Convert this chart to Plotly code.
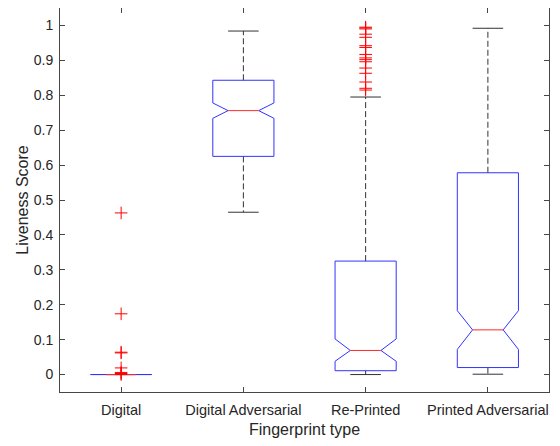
import plotly.graph_objects as go

categories = ["Digital", "Digital Adversarial", "Re-Printed", "Printed Adversarial"]
q1 = [0.0, 0.625, 0.011, 0.020]
median = [0.0, 0.756, 0.069, 0.128]
q3 = [0.0, 0.843, 0.325, 0.578]
notch_low = [0.0, 0.734, 0.038, 0.072]
notch_high = [0.0, 0.778, 0.102, 0.183]
whisker_low = [0.0, 0.465, 0.0, 0.001]
whisker_high = [0.0, 0.984, 0.795, 0.992]
outliers = [
    [0.463, 0.174, 0.064, 0.062, 0.019, 0.006, 0.003, 0.0],
    [],
    [0.995, 0.993, 0.990, 0.975, 0.966, 0.942, 0.937, 0.917, 0.907, 0.902,
     0.896, 0.878, 0.863, 0.838, 0.820, 0.815],
    [],
]
y_ticks = [0, 0.1, 0.2, 0.3, 0.4, 0.5, 0.6, 0.7, 0.8, 0.9, 1]
y_tick_text = ["0", "0.1", "0.2", "0.3", "0.4", "0.5", "0.6", "0.7", "0.8", "0.9", "1"]

half_w = 0.25
notch_in = 0.125
positions = list(range(1, len(categories) + 1))

wx, wy, cx, cy, bx, by, mx, my, ox, oy = [], [], [], [], [], [], [], [], [], []
for i, p in enumerate(positions):
    wx += [p, p, None, p, p, None]
    wy += [q3[i], whisker_high[i], None, q1[i], whisker_low[i], None]
    cx += [p - half_w / 2, p + half_w / 2, None, p - half_w / 2, p + half_w / 2, None]
    cy += [whisker_high[i], whisker_high[i], None, whisker_low[i], whisker_low[i], None]
    bx += [p - half_w, p - half_w, p - half_w + notch_in, p - half_w, p - half_w,
           p + half_w, p + half_w, p + half_w - notch_in, p + half_w, p + half_w,
           p - half_w, None]
    by += [q1[i], notch_low[i], median[i], notch_high[i], q3[i],
           q3[i], notch_high[i], median[i], notch_low[i], q1[i],
           q1[i], None]
    mx += [p - half_w + notch_in, p + half_w - notch_in, None]
    my += [median[i], median[i], None]
    for v in outliers[i]:
        ox.append(p)
        oy.append(v)

fig = go.Figure()
fig.add_trace(go.Scatter(x=wx, y=wy, mode="lines",
                         line=dict(color="rgb(50,50,50)", width=1, dash="6px,3px"),
                         hoverinfo="skip", showlegend=False))
fig.add_trace(go.Scatter(x=cx, y=cy, mode="lines",
                         line=dict(color="rgb(50,50,50)", width=1),
                         hoverinfo="skip", showlegend=False))
fig.add_trace(go.Scatter(x=bx, y=by, mode="lines",
                         line=dict(color="rgb(50,50,255)", width=1),
                         hoverinfo="skip", showlegend=False))
fig.add_trace(go.Scatter(x=mx, y=my, mode="lines",
                         line=dict(color="rgb(255,40,40)", width=1),
                         hoverinfo="skip", showlegend=False))
fig.add_trace(go.Scatter(x=ox, y=oy, mode="markers",
                         marker=dict(symbol="cross-thin-open", size=9, color="rgb(255,0,0)",
                                     line=dict(color="rgb(255,0,0)", width=1)),
                         hoverinfo="skip", showlegend=False))

axis_color = "rgb(38,38,38)"
font_family = "Liberation Sans, Arial, sans-serif"
fig.update_layout(
    width=552, height=438,
    margin=dict(l=52, r=11, t=0, b=54),
    paper_bgcolor="white", plot_bgcolor="white",
    font=dict(family=font_family, color=axis_color, size=14.5),
    xaxis=dict(
        range=[0.5, 4.5], tickvals=positions, ticktext=categories,
        showgrid=False, zeroline=False, showline=True, linecolor="rgb(70,70,70)",
        linewidth=1, mirror="allticks", ticks="inside", ticklen=5,
        tickcolor="rgb(70,70,70)", automargin=False,
        ticklabelstandoff=5,
        title=dict(text="Fingerprint type", font=dict(size=16), standoff=6),
        tickfont=dict(size=14.5),
    ),
    yaxis=dict(
        range=[-0.05, 1.05], tickvals=y_ticks, ticktext=y_tick_text,
        showgrid=False, zeroline=False, showline=True, linecolor="rgb(70,70,70)",
        linewidth=1, mirror="allticks", ticks="inside", ticklen=5,
        tickcolor="rgb(70,70,70)", automargin=False,
        ticklabelstandoff=3,
        title=dict(text="Liveness Score", font=dict(size=16), standoff=1),
        tickfont=dict(size=14),
    ),
)

fig.write_html("out.html")
